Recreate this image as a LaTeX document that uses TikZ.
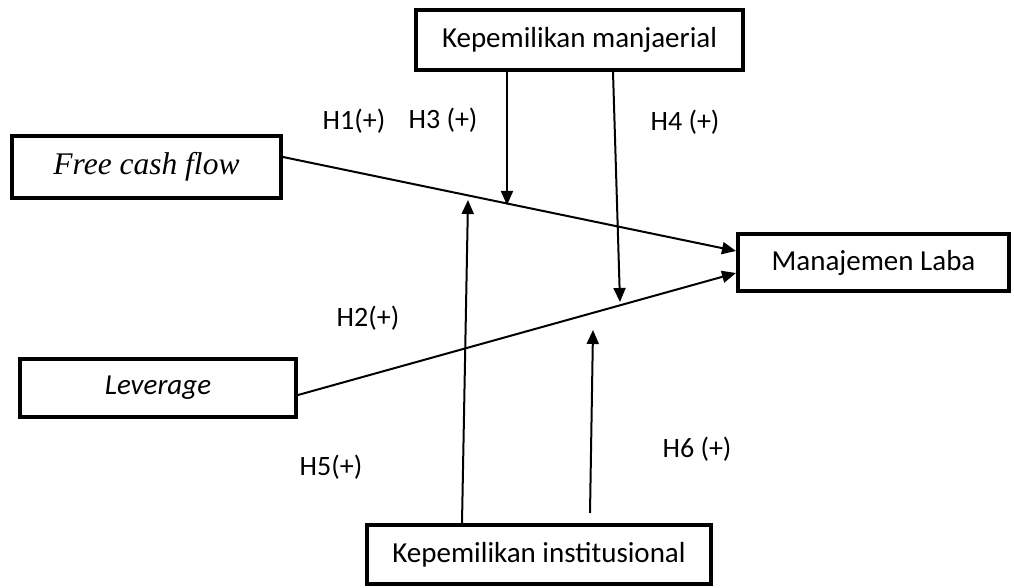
\documentclass[tikz,border=0pt]{standalone}
\usepackage{fontspec}
\setmainfont{Carlito}
\newfontfamily\timesfont{Liberation Serif}
\usetikzlibrary{arrows.meta,calc}
\begin{document}
\begin{tikzpicture}[x=1pt,y=-1pt,
  varbox/.style={draw,line width=4pt,rectangle,inner sep=0pt,font=\fontsize{29}{34}\selectfont},
  hlabel/.style={font=\fontsize{28}{33}\selectfont,inner sep=0pt},
  link/.style={line width=2pt,-{Triangle[length=14pt,width=12pt]}}]
\useasboundingbox (0,0) rectangle (1014,588);
\node[varbox,minimum width=269pt,minimum height=62pt] (fcf) at (146.5,167) {\timesfont\fontsize{31.5}{36}\selectfont\itshape Free cash flow};
\node[varbox,minimum width=327pt,minimum height=60pt] (km) at (579.5,40) {Kepemilikan manjaerial};
\node[varbox,minimum width=271pt,minimum height=57pt] (ml) at (873.5,262.5) {Manajemen Laba};
\node[varbox,minimum width=276pt,minimum height=58pt] (lev) at (158,388) {\itshape Leverage};
\node[varbox,minimum width=344pt,minimum height=59pt] (ki) at (539,554.5) {Kepemilikan institusional};
\coordinate (h3end) at (507,205);
\coordinate (h4end) at (620,302);
\coordinate (h5end) at (468,200);
\coordinate (h6end) at (593,330);
\coordinate (h6start) at (590,513);
\draw[link] ([yshift=10pt]fcf.east) -- ([yshift=11.5pt]ml.west);
\draw[link] ([yshift=-7pt]lev.east) -- ([yshift=-10.5pt]ml.west);
\draw[link] ([xshift=-72.5pt]km.south) -- (h3end);
\draw[link] ([xshift=33.5pt]km.south) -- (h4end);
\draw[link] ([xshift=-77pt]ki.north) -- (h5end);
\draw[link] (h6start) -- (h6end);
\node[hlabel] (l1) at (354,121) {H1(+)};
\node[hlabel] (l3) at (443,120) {H3 (+)};
\node[hlabel] (l4) at (685,122) {H4 (+)};
\node[hlabel] (l2) at (368,318) {H2(+)};
\node[hlabel] (l5) at (331,467) {H5(+)};
\node[hlabel] (l6) at (697,449) {H6 (+)};
\end{tikzpicture}
\end{document}
